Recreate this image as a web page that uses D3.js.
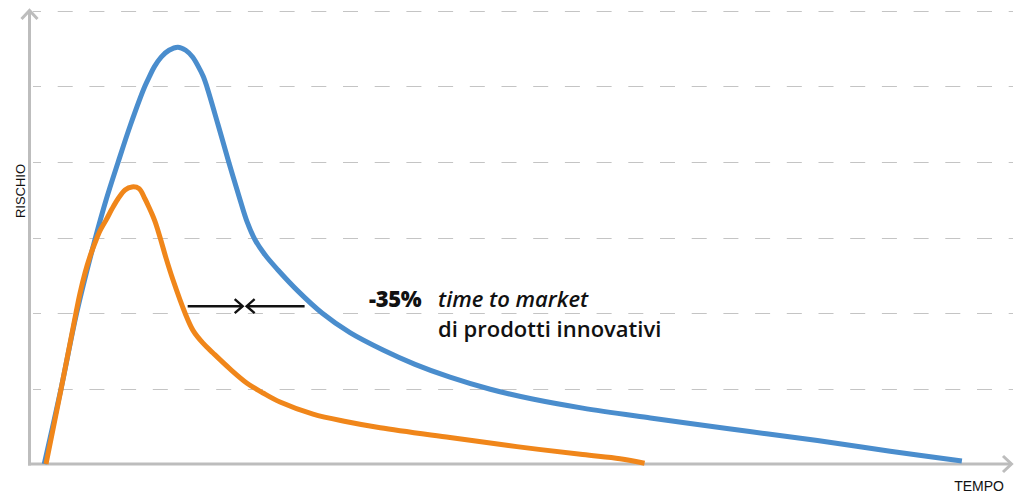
<!DOCTYPE html>
<html>
<head>
<meta charset="utf-8">
<script src="https://cdn.jsdelivr.net/npm/d3@7"></script>
<style>
  html, body { margin: 0; padding: 0; background: #fff; }
  svg { display: block; }
</style>
</head>
<body>
<svg id="chart" width="1017" height="494"></svg>
<script>
// ---- data (time in % of horizon, risk in grid units) ----
const blueTime = [1.5, 3.2, 4.8, 6.7, 7.8, 9.0, 10.3, 11.7, 12.2, 12.7, 13.4, 14.2, 15.1, 15.9, 16.6, 17.2, 17.7, 18.07, 19.2, 20.3, 21.43, 22.14, 22.95, 23.97, 25.29, 27.33, 29.77, 32.62, 35.98, 39.24, 42.8, 46.9, 51.2, 56.3, 63.2, 66.5, 73.3, 80.2, 87.6, 94.9];
const blueRisk = [0.0, 0.99, 2.0, 2.99, 3.5, 3.99, 4.5, 4.99, 5.13, 5.26, 5.39, 5.48, 5.52, 5.48, 5.39, 5.26, 5.13, 4.99, 4.49, 3.99, 3.5, 3.21, 2.97, 2.77, 2.57, 2.29, 2.0, 1.74, 1.51, 1.32, 1.15, 0.99, 0.86, 0.74, 0.61, 0.55, 0.43, 0.31, 0.17, 0.04];

const orangeTime = [1.68, 3.21, 4.73, 5.14, 5.65, 6.16, 6.67, 7.18, 7.79, 8.4, 9.0, 9.72, 10.43, 11.14, 11.76, 12.16, 12.47, 12.78, 13.08, 13.38, 13.89, 14.6, 15.83, 16.64, 17.66, 18.68, 20.4, 22.14, 23.77, 25.5, 28.86, 32.3, 35.7, 42.8, 49.6, 56.3, 60.1, 62.6];
const orangeRisk = [0.0, 0.99, 2.0, 2.26, 2.53, 2.75, 2.93, 3.09, 3.23, 3.38, 3.51, 3.63, 3.67, 3.65, 3.51, 3.40, 3.31, 3.21, 3.09, 2.96, 2.73, 2.44, 2.0, 1.77, 1.60, 1.47, 1.26, 1.07, 0.94, 0.82, 0.66, 0.56, 0.48, 0.35, 0.23, 0.125, 0.07, 0.01];

const gridTicks = [1, 2, 3, 4, 5, 6];
const yLabel = "RISCHIO";
const xLabel = "TEMPO";
const noteBold = "-35%";
const noteItalic = "time to market";
const noteLine2 = "di prodotti innovativi";
const arrowRight = [16.1, 21.7];   // time span of right-pointing arrow
const arrowLeft = [28.0, 22.1];    // time span of left-pointing arrow
const arrowRisk = 2.09;

// ---- layout ----
const svg = d3.select("#chart");
const x = d3.scaleLinear().domain([0, 100]).range([29.5, 1012]);
const y = d3.scaleLinear().domain([0, 6]).range([464, 11]);

const axisColor = "#bdbdbd";

// gridlines
svg.append("g").selectAll("line").data(gridTicks).join("line")
  .attr("x1", 33).attr("x2", 1013)
  .attr("y1", d => Math.round(y(d)) + 0.5).attr("y2", d => Math.round(y(d)) + 0.5)
  .attr("stroke", "#c4c4c4").attr("stroke-width", 1.2)
  .attr("stroke-dasharray", "15,16.7").attr("stroke-dashoffset", 7);

// axes
const ax = svg.append("g").attr("fill", "none").attr("stroke", axisColor).attr("stroke-width", 3);
ax.append("line").attr("x1", x(0)).attr("x2", x(0)).attr("y1", y(0) + 1.5).attr("y2", 10);
ax.append("path").attr("d", `M${x(0) - 8},${19} L${x(0)},${10.5} L${x(0) + 8},${19}`);
ax.append("line").attr("x1", x(0) - 1.5).attr("x2", 1011).attr("y1", y(0)).attr("y2", y(0));
ax.append("path").attr("d", `M${1003},${y(0) - 8} L${1011.5},${y(0)} L${1003},${y(0) + 8}`);

// curves
const line = d3.line()
  .x(d => x(d[0])).y(d => y(d[1]))
  .curve(d3.curveCatmullRom.alpha(0.5));

svg.append("path")
  .datum(blueTime.map((t, i) => [t, blueRisk[i]]))
  .attr("d", line).attr("fill", "none")
  .attr("stroke", "#4a8dcd").attr("stroke-width", 5).attr("stroke-linecap", "butt");

svg.append("path")
  .datum(orangeTime.map((t, i) => [t, orangeRisk[i]]))
  .attr("d", line).attr("fill", "none")
  .attr("stroke", "#f0861a").attr("stroke-width", 5).attr("stroke-linecap", "butt");

// annotation arrows
const ay = y(arrowRisk);
const ar = svg.append("g").attr("fill", "none").attr("stroke", "#111").attr("stroke-width", 2.4);
ar.append("line").attr("x1", x(arrowRight[0])).attr("x2", x(arrowRight[1])).attr("y1", ay).attr("y2", ay);
ar.append("path").attr("d", `M${x(arrowRight[1]) - 8},${ay - 7} L${x(arrowRight[1])},${ay} L${x(arrowRight[1]) - 8},${ay + 7}`);
ar.append("line").attr("x1", x(arrowLeft[0])).attr("x2", x(arrowLeft[1])).attr("y1", ay).attr("y2", ay);
ar.append("path").attr("d", `M${x(arrowLeft[1]) + 8},${ay - 7} L${x(arrowLeft[1])},${ay} L${x(arrowLeft[1]) + 8},${ay + 7}`);

// annotation text
const note = svg.append("g").attr("font-family", "'Open Sans', Roboto, sans-serif").attr("font-size", 22).attr("fill", "#111");
note.append("text").attr("x", 369).attr("y", 307).attr("font-weight", 800).attr("letter-spacing", -0.3).text(noteBold);
note.append("text").attr("x", 438).attr("y", 307).attr("font-style", "italic").attr("font-weight", 600).text(noteItalic);
note.append("text").attr("x", 438).attr("y", 337).attr("font-weight", 600).text(noteLine2);

// axis labels
svg.append("text")
  .attr("transform", `translate(20,191) rotate(-90)`)
  .attr("text-anchor", "middle").attr("dy", "0.35em")
  .attr("font-family", "'Liberation Sans', Arial, sans-serif").attr("font-size", 13).attr("fill", "#111")
  .text(yLabel);
svg.append("text")
  .attr("x", 1004).attr("y", 491).attr("text-anchor", "end")
  .attr("font-family", "'Liberation Sans', Arial, sans-serif").attr("font-size", 14).attr("fill", "#111")
  .text(xLabel);
</script>
</body>
</html>
